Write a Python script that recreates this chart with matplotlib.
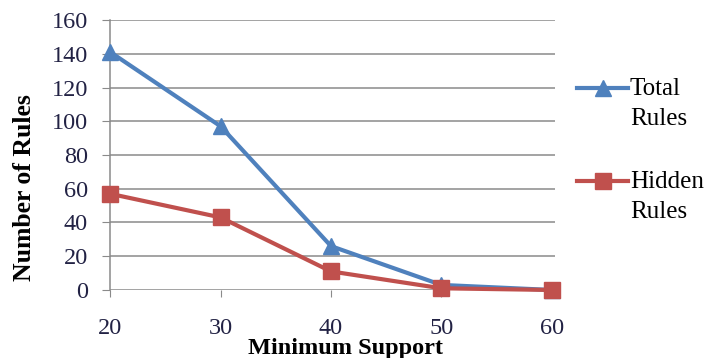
import matplotlib.pyplot as plt
from matplotlib.lines import Line2D

plt.rcParams['font.family'] = ['Liberation Serif', 'DejaVu Serif']

# data
min_support = [20, 30, 40, 50, 60]
total_rules = [141, 97, 26, 3, 0]
hidden_rules = [57, 43, 11, 1, 0]
series_names = ['Total\nRules', 'Hidden\nRules']

blue = '#4F81BD'
red = '#C0504D'
grey = '#8A8A8A'

fig = plt.figure(figsize=(7.07, 3.58), dpi=100)
ax = fig.add_axes([0.156, 0.19, 0.629, 0.754])

ax.plot(min_support, total_rules, color=blue, lw=3, marker='^', ms=12,
        clip_on=False, zorder=3)
ax.plot(min_support, hidden_rules, color=red, lw=3, marker='s', ms=11,
        clip_on=False, zorder=4)

ax.set_xlim(20, 60.3)
ax.set_ylim(0, 160)
ax.set_yticks(range(0, 161, 20))
ax.set_xticks(min_support)
ax.grid(axis='y', color=grey, lw=1.1)
ax.set_axisbelow(True)
for s in ['top', 'right', 'bottom']:
    ax.spines[s].set_visible(False)
ax.spines['left'].set_color(grey)
ax.spines['left'].set_linewidth(1.1)
ax.tick_params(axis='y', length=6, color=grey, labelsize=17.5, pad=10)
ax.tick_params(axis='x', length=5, color=grey, labelsize=17.5, pad=15)
for lbl in ax.get_yticklabels() + ax.get_xticklabels():
    lbl.set_color('#222244')

ax.set_xlabel('Minimum Support', fontsize=17.5, fontweight='bold')
ax.xaxis.set_label_coords(0.528, -0.178)
ax.set_ylabel('Number of Rules', fontsize=18.5, fontweight='bold')
ax.yaxis.set_label_coords(-0.166, 0.381)

# legend on the right: handle sits level with the first line of each label
legend_y = [88, 181]
handles = [dict(color=blue, marker='^', ms=12), dict(color=red, marker='s', ms=11)]
for name, y, h in zip(series_names, legend_y, handles):
    fy = 1 - y / 358
    fig.add_artist(Line2D([577 / 707, 628 / 707], [fy, fy], lw=3,
                          transform=fig.transFigure, markevery=[], **h))
    fig.add_artist(Line2D([603 / 707], [fy], lw=0,
                          transform=fig.transFigure, **h))
    fig.text(630 / 707, fy + 10 / 358, name, fontsize=18, va='top', ha='left',
             linespacing=1.45)

fig.savefig('out.png', dpi=100)
